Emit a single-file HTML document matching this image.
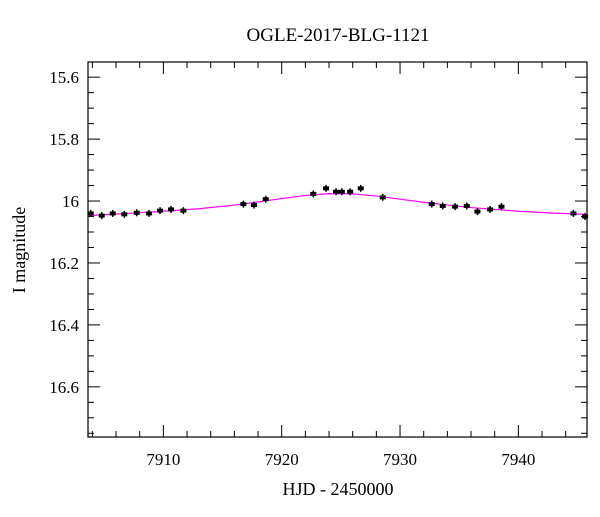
<!DOCTYPE html>
<html><head><meta charset="utf-8"><style>
body{margin:0;background:#fff}
svg text{font-family:"Liberation Serif",serif;fill:#000}
</style></head><body>
<svg id="c" width="600" height="512">
<text x="338" y="41" font-size="19" text-anchor="middle">OGLE-2017-BLG-1121</text>
<text x="338" y="495" font-size="18" text-anchor="middle">HJD - 2450000</text>
<text x="25" y="250" font-size="18" text-anchor="middle" transform="rotate(-90 25 250)">I magnitude</text>
<g id="axes"></g><g id="model"></g><g id="pts"></g>
<rect x="88" y="62" width="499" height="375" fill="none" stroke="#000" stroke-width="1.2"/>
</svg>
<script>
const days=[7903.86,7904.79,7905.72,7906.70,7907.75,7908.79,7909.72,7910.65,7911.69,7916.76,7917.66,7918.65,7922.67,7923.75,7924.59,7925.08,7925.78,7926.68,7928.54,7932.68,7933.61,7934.65,7935.64,7936.54,7937.61,7938.57,7944.65,7945.64];
const mags=[16.040,16.047,16.040,16.043,16.038,16.040,16.031,16.027,16.031,16.010,16.013,15.994,15.977,15.959,15.970,15.970,15.970,15.959,15.988,16.010,16.016,16.018,16.016,16.034,16.027,16.018,16.040,16.050];
const modelT=[7903.6,7907,7910,7913,7916,7918,7920,7922,7924,7926,7928,7930,7932,7934,7936,7938,7940,7943,7945.8];
const modelM=[16.047,16.040,16.033,16.025,16.013,16.003,15.992,15.982,15.976,15.977,15.984,15.994,16.004,16.013,16.021,16.027,16.033,16.039,16.043];
const xTicks=[7910,7920,7930,7940];
const yTicks=[15.6,15.8,16,16.2,16.4,16.6];
const yLabels=["15.6","15.8","16","16.2","16.4","16.6"];
const X0=88,X1=587,Y0=62,Y1=437,D0=7903.63,D1=7945.8,M0=15.551,M1=16.762;
const sx=d=>X0+(d-D0)/(D1-D0)*(X1-X0);
const sy=m=>Y0+(m-M0)/(M1-M0)*(Y1-Y0);
const NS="http://www.w3.org/2000/svg";
function mk(p,t,a){const e=document.createElementNS(NS,t);for(const k in a)e.setAttribute(k,a[k]);p.appendChild(e);return e;}
const ax=document.getElementById('axes');
for(let d=7904;d<=7945;d+=2){const maj=d%10===0;const L=maj?12:6;const x=sx(d);
const t1=mk(ax,'line',{x1:x,x2:x,y1:Y1,y2:Y1-L,stroke:'#000'});


const t2=mk(ax,'line',{x1:x,x2:x,y1:Y0,y2:Y0+L,stroke:'#000'});

}
xTicks.forEach(d=>{const t=mk(ax,'text',{x:sx(d),y:465,'font-size':17,'text-anchor':'middle'});t.textContent=d;

});
for(let i=12;i<=67;i++){const m=i*0.25/ 1*0.2; }
for(let k=0;k<=24;k++){const m=15.55+k*0.05;if(m<M0-1e-6||m>M1)continue;const maj=Math.abs(Math.round(m*10)/10-m)<1e-6&&Math.round(m*10)%2===0;const L=maj?12:6;const y=sy(m);
const t1=mk(ax,'line',{x1:X0,x2:X0+L,y1:y,y2:y,stroke:'#000'});


const t2=mk(ax,'line',{x1:X1,x2:X1-L,y1:y,y2:y,stroke:'#000'});

}
yTicks.forEach((m,i)=>{const t=mk(ax,'text',{x:79,y:sy(m)+6,'font-size':17,'text-anchor':'end'});t.textContent=yLabels[i];

});
const pl=mk(document.getElementById('model'),'polyline',{points:modelT.map((t,i)=>sx(t)+','+sy(modelM[i])).join(' '),fill:'none',stroke:'#ff00ff','stroke-width':1.2});


const pg=document.getElementById('pts');
days.forEach((d,i)=>{const x=sx(d),y=sy(mags[i]);
const g=mk(pg,'g',{});


mk(g,'line',{x1:x,x2:x,y1:y-3.5,y2:y+3.5,stroke:'#000','stroke-width':1.5});
mk(g,'rect',{x:x-3,y:y-2,width:6,height:4,fill:'#000'});});
</script>
</body></html>
